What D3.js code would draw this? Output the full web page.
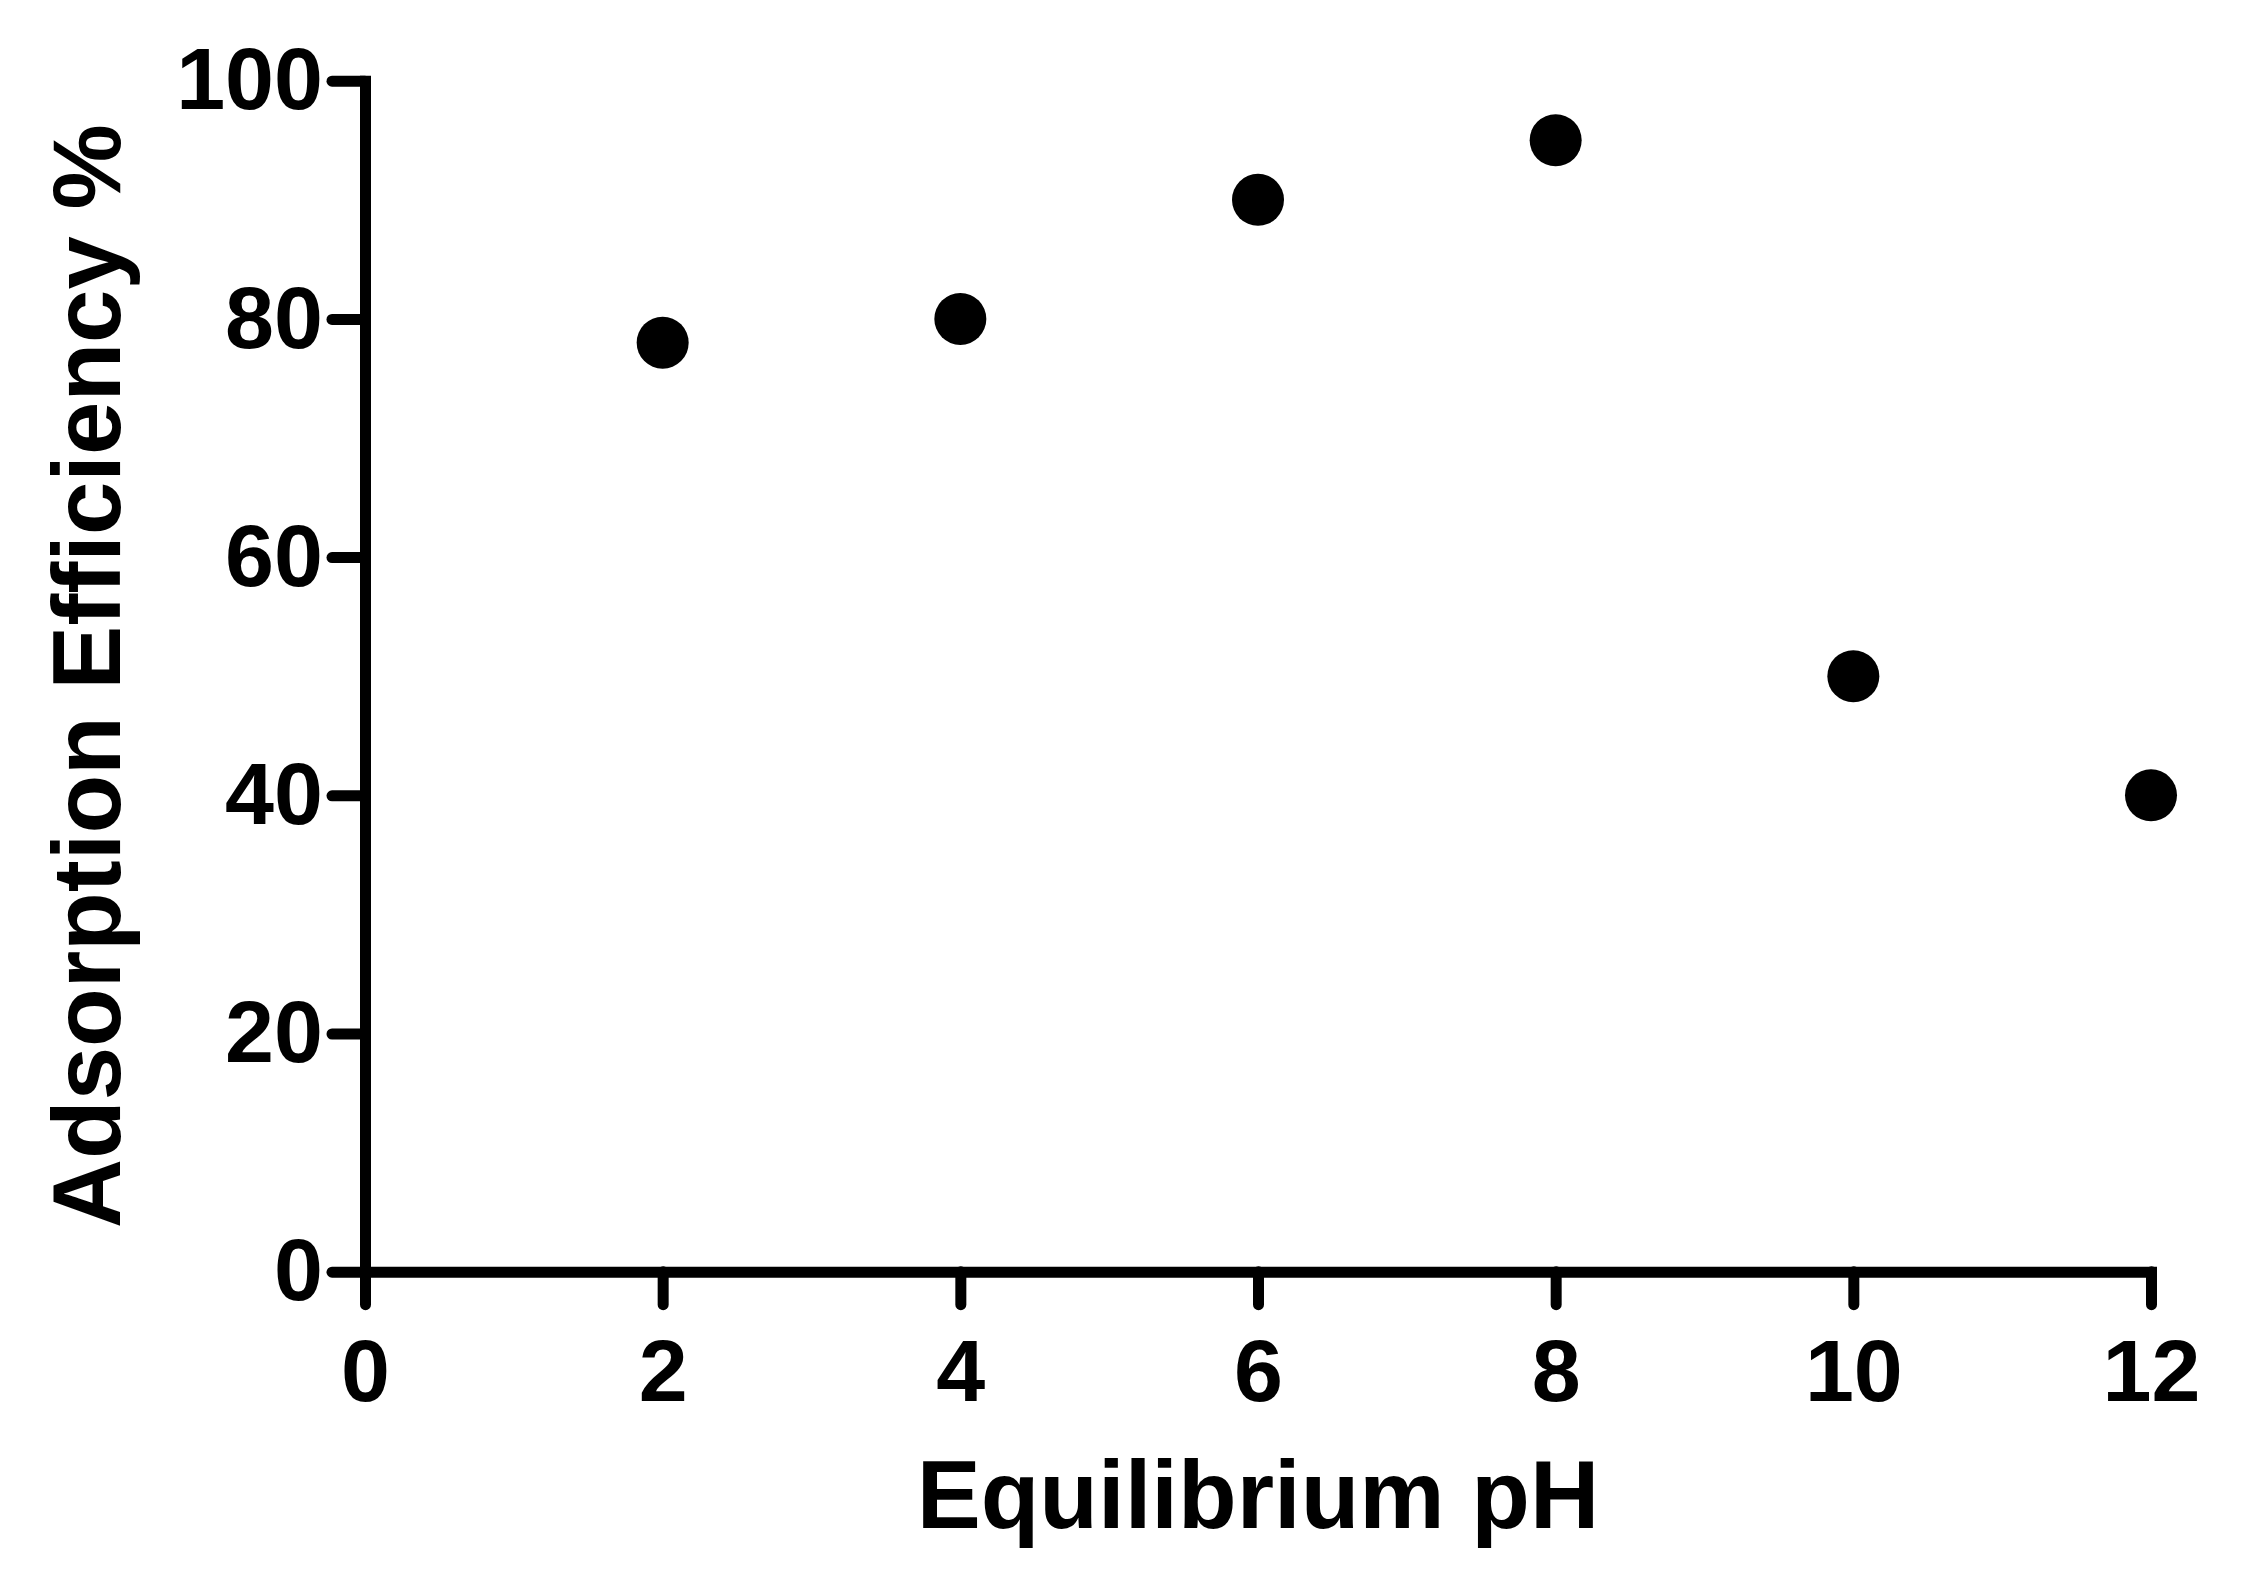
<!DOCTYPE html>
<html>
<head>
<meta charset="utf-8">
<script src="https://cdn.jsdelivr.net/npm/d3@7"></script>
<style>
  html, body { margin: 0; padding: 0; background: #fff; }
  svg { display: block; }
  text { font-family: "Liberation Sans", Arial, sans-serif; font-weight: bold; fill: #000; }
</style>
</head>
<body>
<svg id="chart" width="2244" height="1592"></svg>
<script>
// Data
const phValues = [2, 4, 6, 8, 10, 12];
const efficiency = [78, 80, 90, 95, 50, 40];
const xTicks = [0, 2, 4, 6, 8, 10, 12];
const yTicks = [0, 20, 40, 60, 80, 100];
const xTitle = "Equilibrium pH";
const yTitle = "Adsorption Efficiency %";

(function () {
const W = 2244, H = 1592;
const plotLeft = 365, plotRight = 2151, plotTop = 80.7, plotBottom = 1271.7;

const svg = d3.select("#chart");
svg.append("rect").attr("width", W).attr("height", H).attr("fill", "#fff");

const x = d3.scaleLinear().domain([0, 12]).range([plotLeft, plotRight]);
const y = d3.scaleLinear().domain([0, 100]).range([plotBottom, plotTop]);

const tickSize = 33;
const stroke = 11;

const xAxis = svg.append("g")
  .attr("transform", `translate(0,${plotBottom})`)
  .call(d3.axisBottom(x).tickValues(xTicks).tickFormat(d3.format("d"))
        .tickSize(tickSize).tickSizeOuter(0).tickPadding(34));

const yAxis = svg.append("g")
  .attr("transform", `translate(${plotLeft},0)`)
  .call(d3.axisLeft(y).tickValues(yTicks).tickFormat(d3.format("d"))
        .tickSize(tickSize).tickSizeOuter(0).tickPadding(9));

[xAxis, yAxis].forEach(g => {
  g.select(".domain").attr("stroke", "#000").attr("stroke-width", stroke)
    .attr("stroke-linecap", "square").attr("fill", "none");
  g.selectAll(".tick line").attr("stroke", "#000").attr("stroke-width", stroke)
    .attr("stroke-linecap", "round");
  g.selectAll(".tick text").attr("font-size", 88)
    .attr("font-family", "'Liberation Sans', Arial, sans-serif")
    .attr("font-weight", "bold").attr("fill", "#000");
});

// Points
svg.append("g").selectAll("circle")
  .data(phValues.map((p, i) => ({ p, v: efficiency[i] })))
  .join("circle")
  .attr("cx", d => x(d.p))
  .attr("cy", d => y(d.v))
  .attr("r", 26)
  .attr("fill", "#000");

// Titles
svg.append("text")
  .attr("x", (plotLeft + plotRight) / 2)
  .attr("y", 1528)
  .attr("text-anchor", "middle")
  .attr("font-size", 96)
  .text(xTitle);

svg.append("text")
  .attr("transform", `translate(120,${(plotTop + plotBottom) / 2}) rotate(-90)`)
  .attr("text-anchor", "middle")
  .attr("font-size", 96)
  .text(yTitle);
})();
</script>
</body>
</html>
